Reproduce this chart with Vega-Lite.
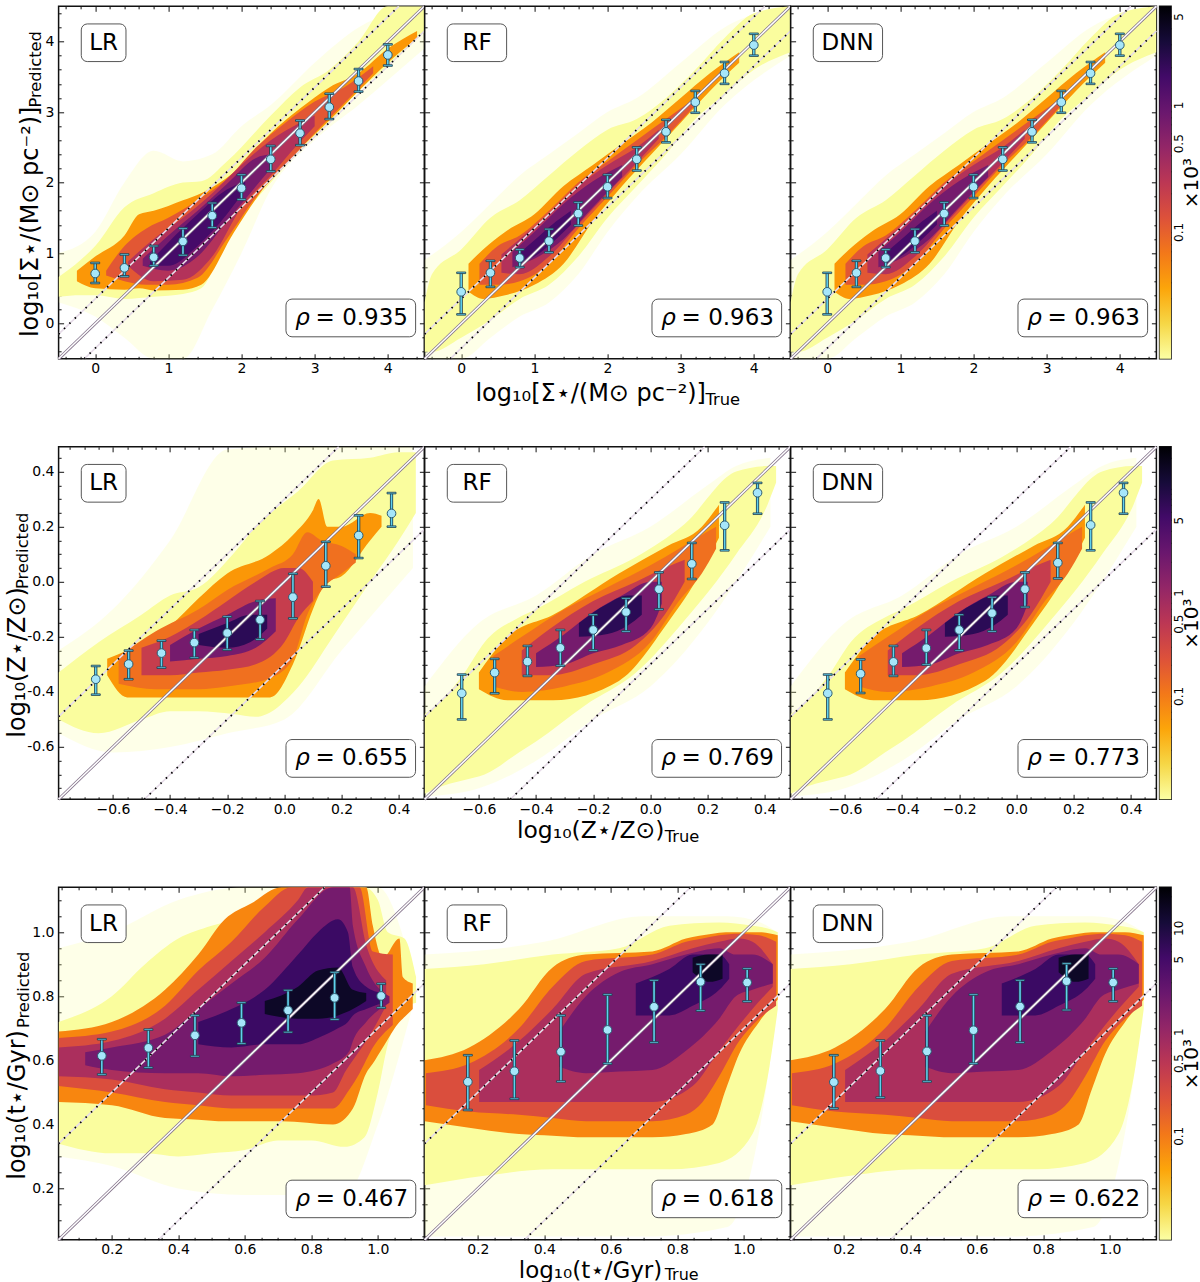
{"$schema":"https://vega.github.io/schema/vega-lite/v6.json","padding":{"left":5.6,"top":3.3,"right":0,"bottom":0},"background":"white","spacing":440.5,"bounds":"flush",
"config":{"view":{"stroke":"#111","strokeWidth":1.5},"axis":{"domain":false,"grid":false,"labels":false,"tickColor":"#111","tickWidth":1,"tickSize":-2.5,"labelFont":"DejaVu Sans","labelFontSize":14,"labelColor":"#000","titleFont":"DejaVu Sans","titleColor":"#000","zindex":1},"text":{"font":"DejaVu Sans","color":"#000"}},
"datasets":{"one":[{"u":1}],
"m1":[{"a":-0.5,"b":-0.5,"c":4.5,"d":4.5}],"d1":[{"a":-0.5,"b":-0.15,"c":4.15,"d":4.5},{"a":-0.15,"b":-0.5,"c":4.5,"d":4.15}],
"m2":[{"a":-0.79,"b":-0.79,"c":0.49,"d":0.49}],"d2":[{"a":-0.79,"b":-0.49,"c":0.19,"d":0.49},{"a":-0.49,"b":-0.79,"c":0.49,"d":0.19}],
"m3":[{"a":0.04,"b":0.04,"c":1.14,"d":1.14}],"d3":[{"a":0.04,"b":0.34,"c":0.84,"d":1.14},{"a":0.34,"b":0.04,"c":1.14,"d":0.84}],
"r1":[
{"m":["LR"],"k":"a","lab":"LR","rho":"= 0.935"},{"m":["RF"],"k":"a","lab":"RF","rho":"= 0.963"},{"m":["DNN"],"k":"a","lab":"DNN","rho":"= 0.963"},
{"m":["LR"],"k":"s","x":-0.5,"y":0.3,"y2":1},{"m":["LR"],"k":"s","x":0,"y":0.1,"y2":1.3},{"m":["LR"],"k":"s","x":0.4,"y":-0.2,"y2":2},{"m":["LR"],"k":"s","x":0.8,"y":-0.5,"y2":2.45},{"m":["LR"],"k":"s","x":1.2,"y":-0.5,"y2":2.3},{"m":["LR"],"k":"s","x":1.6,"y":0.2,"y2":2.4},{"m":["LR"],"k":"s","x":2,"y":1,"y2":2.8},{"m":["LR"],"k":"s","x":2.4,"y":1.9,"y2":3.1},{"m":["LR"],"k":"s","x":3,"y":2.6,"y2":3.7},{"m":["LR"],"k":"s","x":3.6,"y":3.1,"y2":4.2},{"m":["LR"],"k":"s","x":4.5,"y":3.9,"y2":4.5},
{"m":["RF","DNN"],"k":"s","x":-0.5,"y":-0.5,"y2":0.9},{"m":["RF","DNN"],"k":"s","x":0,"y":-0.5,"y2":1.3},{"m":["RF","DNN"],"k":"s","x":0.4,"y":-0.2,"y2":1.7},{"m":["RF","DNN"],"k":"s","x":0.8,"y":0.1,"y2":2.1},{"m":["RF","DNN"],"k":"s","x":1.2,"y":0.3,"y2":2.4},{"m":["RF","DNN"],"k":"s","x":1.6,"y":0.7,"y2":2.7},{"m":["RF","DNN"],"k":"s","x":2,"y":1.3,"y2":3},{"m":["RF","DNN"],"k":"s","x":2.4,"y":1.8,"y2":3.2},{"m":["RF","DNN"],"k":"s","x":3,"y":2.4,"y2":3.7},{"m":["RF","DNN"],"k":"s","x":3.6,"y":3.1,"y2":4.2},{"m":["RF","DNN"],"k":"s","x":4.5,"y":3.8,"y2":4.5},
{"m":["LR"],"k":"b","v":0.0105,"x":-0.5,"y":0.38,"y2":0.66},{"m":["LR"],"k":"b","v":0.0105,"x":-0.2,"y":0.4,"y2":0.9},{"m":["LR"],"k":"b","v":0.0105,"x":0,"y":0.4,"y2":1.1},{"m":["LR"],"k":"b","v":0.0105,"x":0.4,"y":0.35,"y2":1.65},{"m":["LR"],"k":"b","v":0.0105,"x":0.8,"y":0.38,"y2":1.85},{"m":["LR"],"k":"b","v":0.0105,"x":1.2,"y":0.42,"y2":2},{"m":["LR"],"k":"b","v":0.0105,"x":1.45,"y":0.5,"y2":2.02},{"m":["LR"],"k":"b","v":0.0105,"x":1.8,"y":1.2,"y2":2.3},{"m":["LR"],"k":"b","v":0.0105,"x":2.4,"y":2,"y2":2.95},{"m":["LR"],"k":"b","v":0.0105,"x":2.8,"y":2.45,"y2":3.35},{"m":["LR"],"k":"b","v":0.0105,"x":3.2,"y":2.85,"y2":3.6},{"m":["LR"],"k":"b","v":0.0105,"x":3.6,"y":3.3,"y2":4},{"m":["LR"],"k":"b","v":0.0105,"x":4,"y":3.65,"y2":4.5},{"m":["LR"],"k":"b","v":0.0105,"x":4.5,"y":4.15,"y2":4.5},
{"m":["LR"],"k":"b","v":0.06,"x":-0.25,"y":0.6,"y2":0.75},{"m":["LR"],"k":"b","v":0.06,"x":0,"y":0.5,"y2":0.95},{"m":["LR"],"k":"b","v":0.06,"x":0.4,"y":0.48,"y2":1.25},{"m":["LR"],"k":"b","v":0.06,"x":0.6,"y":0.5,"y2":1.55},{"m":["LR"],"k":"b","v":0.06,"x":0.8,"y":0.47,"y2":1.6},{"m":["LR"],"k":"b","v":0.06,"x":1.2,"y":0.48,"y2":1.75},{"m":["LR"],"k":"b","v":0.06,"x":1.45,"y":0.55,"y2":1.85},{"m":["LR"],"k":"b","v":0.06,"x":1.9,"y":1.3,"y2":2.15},{"m":["LR"],"k":"b","v":0.06,"x":2.4,"y":2.05,"y2":2.7},{"m":["LR"],"k":"b","v":0.06,"x":2.8,"y":2.48,"y2":3.05},{"m":["LR"],"k":"b","v":0.06,"x":3.2,"y":2.88,"y2":3.35},{"m":["LR"],"k":"b","v":0.06,"x":3.6,"y":3.3,"y2":3.55},{"m":["LR"],"k":"b","v":0.06,"x":4,"y":3.7,"y2":3.9},{"m":["LR"],"k":"b","v":0.06,"x":4.4,"y":4.05,"y2":4.15},
{"m":["LR"],"k":"b","v":0.2,"x":0.15,"y":0.68,"y2":0.75},{"m":["LR"],"k":"b","v":0.2,"x":0.4,"y":0.6,"y2":1.1},{"m":["LR"],"k":"b","v":0.2,"x":0.7,"y":0.55,"y2":1.35},{"m":["LR"],"k":"b","v":0.2,"x":1,"y":0.55,"y2":1.5},{"m":["LR"],"k":"b","v":0.2,"x":1.4,"y":0.65,"y2":1.75},{"m":["LR"],"k":"b","v":0.2,"x":1.8,"y":1.2,"y2":2.05},{"m":["LR"],"k":"b","v":0.2,"x":2.2,"y":1.8,"y2":2.5},{"m":["LR"],"k":"b","v":0.2,"x":2.6,"y":2.25,"y2":2.85},{"m":["LR"],"k":"b","v":0.2,"x":3,"y":2.7,"y2":3.15},{"m":["LR"],"k":"b","v":0.2,"x":3.4,"y":3.12,"y2":3.35},{"m":["LR"],"k":"b","v":0.2,"x":3.8,"y":3.55,"y2":3.65},
{"m":["LR"],"k":"b","v":0.6,"x":0.45,"y":0.82,"y2":0.88},{"m":["LR"],"k":"b","v":0.6,"x":0.8,"y":0.6,"y2":1.2},{"m":["LR"],"k":"b","v":0.6,"x":1.2,"y":0.62,"y2":1.5},{"m":["LR"],"k":"b","v":0.6,"x":1.6,"y":0.95,"y2":1.85},{"m":["LR"],"k":"b","v":0.6,"x":2,"y":1.65,"y2":2.25},{"m":["LR"],"k":"b","v":0.6,"x":2.4,"y":2.1,"y2":2.6},{"m":["LR"],"k":"b","v":0.6,"x":2.8,"y":2.58,"y2":2.85},{"m":["LR"],"k":"b","v":0.6,"x":3,"y":2.8,"y2":2.95},
{"m":["LR"],"k":"b","v":2,"x":0.65,"y":0.82,"y2":0.92},{"m":["LR"],"k":"b","v":2,"x":1,"y":0.75,"y2":1.25},{"m":["LR"],"k":"b","v":2,"x":1.4,"y":0.95,"y2":1.6},{"m":["LR"],"k":"b","v":2,"x":1.8,"y":1.45,"y2":1.98},{"m":["LR"],"k":"b","v":2,"x":2.2,"y":1.95,"y2":2.35},{"m":["LR"],"k":"b","v":2,"x":2.4,"y":2.2,"y2":2.4},
{"m":["LR"],"k":"b","v":5,"x":0.75,"y":0.82,"y2":0.88},{"m":["LR"],"k":"b","v":5,"x":1,"y":0.82,"y2":1.15},{"m":["LR"],"k":"b","v":5,"x":1.4,"y":1.1,"y2":1.55},{"m":["LR"],"k":"b","v":5,"x":1.8,"y":1.55,"y2":1.9},{"m":["LR"],"k":"b","v":5,"x":2.05,"y":1.9,"y2":2.02},
{"m":["RF","DNN"],"k":"b","v":0.0105,"x":-0.5,"y":-0.4,"y2":0.3},{"m":["RF","DNN"],"k":"b","v":0.0105,"x":-0.4,"y":-0.4,"y2":0.7},{"m":["RF","DNN"],"k":"b","v":0.0105,"x":0,"y":-0.2,"y2":1.05},{"m":["RF","DNN"],"k":"b","v":0.0105,"x":0.4,"y":0.05,"y2":1.5},{"m":["RF","DNN"],"k":"b","v":0.0105,"x":0.8,"y":0.35,"y2":1.75},{"m":["RF","DNN"],"k":"b","v":0.0105,"x":1.2,"y":0.55,"y2":2.1},{"m":["RF","DNN"],"k":"b","v":0.0105,"x":1.6,"y":0.95,"y2":2.45},{"m":["RF","DNN"],"k":"b","v":0.0105,"x":2,"y":1.5,"y2":2.75},{"m":["RF","DNN"],"k":"b","v":0.0105,"x":2.4,"y":1.95,"y2":2.9},{"m":["RF","DNN"],"k":"b","v":0.0105,"x":2.8,"y":2.4,"y2":3.2},{"m":["RF","DNN"],"k":"b","v":0.0105,"x":3.2,"y":2.9,"y2":3.6},{"m":["RF","DNN"],"k":"b","v":0.0105,"x":3.6,"y":3.25,"y2":4.05},{"m":["RF","DNN"],"k":"b","v":0.0105,"x":4,"y":3.6,"y2":4.4},{"m":["RF","DNN"],"k":"b","v":0.0105,"x":4.5,"y":3.85,"y2":4.5},
{"m":["RF","DNN"],"k":"b","v":0.06,"x":0.1,"y":0.45,"y2":0.85},{"m":["RF","DNN"],"k":"b","v":0.06,"x":0.3,"y":0.35,"y2":1.05},{"m":["RF","DNN"],"k":"b","v":0.06,"x":0.6,"y":0.4,"y2":1.3},{"m":["RF","DNN"],"k":"b","v":0.06,"x":1,"y":0.55,"y2":1.55},{"m":["RF","DNN"],"k":"b","v":0.06,"x":1.4,"y":0.85,"y2":1.95},{"m":["RF","DNN"],"k":"b","v":0.06,"x":1.8,"y":1.45,"y2":2.25},{"m":["RF","DNN"],"k":"b","v":0.06,"x":2.2,"y":1.95,"y2":2.55},{"m":["RF","DNN"],"k":"b","v":0.06,"x":2.6,"y":2.4,"y2":2.85},{"m":["RF","DNN"],"k":"b","v":0.06,"x":3,"y":2.85,"y2":3.2},{"m":["RF","DNN"],"k":"b","v":0.06,"x":3.4,"y":3.3,"y2":3.55},{"m":["RF","DNN"],"k":"b","v":0.06,"x":3.8,"y":3.7,"y2":3.85},
{"m":["RF","DNN"],"k":"b","v":0.2,"x":0.25,"y":0.55,"y2":0.85},{"m":["RF","DNN"],"k":"b","v":0.2,"x":0.5,"y":0.55,"y2":1.1},{"m":["RF","DNN"],"k":"b","v":0.2,"x":0.8,"y":0.6,"y2":1.25},{"m":["RF","DNN"],"k":"b","v":0.2,"x":1.2,"y":0.85,"y2":1.6},{"m":["RF","DNN"],"k":"b","v":0.2,"x":1.6,"y":1.35,"y2":2},{"m":["RF","DNN"],"k":"b","v":0.2,"x":2,"y":1.8,"y2":2.3},{"m":["RF","DNN"],"k":"b","v":0.2,"x":2.4,"y":2.25,"y2":2.6},{"m":["RF","DNN"],"k":"b","v":0.2,"x":2.8,"y":2.65,"y2":2.9},{"m":["RF","DNN"],"k":"b","v":0.2,"x":3.2,"y":3.1,"y2":3.2},
{"m":["RF","DNN"],"k":"b","v":0.6,"x":0.55,"y":0.72,"y2":0.98},{"m":["RF","DNN"],"k":"b","v":0.6,"x":0.8,"y":0.7,"y2":1.2},{"m":["RF","DNN"],"k":"b","v":0.6,"x":1.2,"y":0.95,"y2":1.55},{"m":["RF","DNN"],"k":"b","v":0.6,"x":1.6,"y":1.4,"y2":1.95},{"m":["RF","DNN"],"k":"b","v":0.6,"x":2,"y":1.85,"y2":2.25},{"m":["RF","DNN"],"k":"b","v":0.6,"x":2.4,"y":2.28,"y2":2.5},{"m":["RF","DNN"],"k":"b","v":0.6,"x":2.7,"y":2.62,"y2":2.75},
{"m":["RF","DNN"],"k":"b","v":2,"x":0.7,"y":0.8,"y2":1.02},{"m":["RF","DNN"],"k":"b","v":2,"x":1,"y":0.92,"y2":1.3},{"m":["RF","DNN"],"k":"b","v":2,"x":1.4,"y":1.2,"y2":1.7},{"m":["RF","DNN"],"k":"b","v":2,"x":1.8,"y":1.65,"y2":2.02},{"m":["RF","DNN"],"k":"b","v":2,"x":2.2,"y":2.08,"y2":2.25},
{"m":["RF","DNN"],"k":"b","v":5,"x":0.8,"y":0.85,"y2":1},{"m":["RF","DNN"],"k":"b","v":5,"x":1,"y":0.95,"y2":1.18},{"m":["RF","DNN"],"k":"b","v":5,"x":1.3,"y":1.2,"y2":1.45},{"m":["RF","DNN"],"k":"b","v":5,"x":1.5,"y":1.4,"y2":1.6},
{"m":["LR"],"k":"p","x":0,"y":0.71,"lo":0.575,"hi":0.86},{"m":["LR"],"k":"p","x":0.4,"y":0.79,"lo":0.67,"hi":0.98},{"m":["LR"],"k":"p","x":0.8,"y":0.94,"lo":0.82,"hi":1.1},{"m":["LR"],"k":"p","x":1.2,"y":1.165,"lo":0.97,"hi":1.35},{"m":["LR"],"k":"p","x":1.6,"y":1.53,"lo":1.36,"hi":1.71},{"m":["LR"],"k":"p","x":2,"y":1.92,"lo":1.76,"hi":2.11},{"m":["LR"],"k":"p","x":2.4,"y":2.33,"lo":2.16,"hi":2.52},{"m":["LR"],"k":"p","x":2.8,"y":2.7,"lo":2.53,"hi":2.88},{"m":["LR"],"k":"p","x":3.2,"y":3.07,"lo":2.9,"hi":3.26},{"m":["LR"],"k":"p","x":3.6,"y":3.44,"lo":3.29,"hi":3.61},{"m":["LR"],"k":"p","x":4,"y":3.81,"lo":3.66,"hi":3.96},
{"m":["RF","DNN"],"k":"p","x":0,"y":0.45,"lo":0.13,"hi":0.72},{"m":["RF","DNN"],"k":"p","x":0.4,"y":0.72,"lo":0.52,"hi":0.89},{"m":["RF","DNN"],"k":"p","x":0.8,"y":0.93,"lo":0.8,"hi":1.05},{"m":["RF","DNN"],"k":"p","x":1.2,"y":1.17,"lo":1.01,"hi":1.34},{"m":["RF","DNN"],"k":"p","x":1.6,"y":1.56,"lo":1.39,"hi":1.72},{"m":["RF","DNN"],"k":"p","x":2,"y":1.94,"lo":1.78,"hi":2.11},{"m":["RF","DNN"],"k":"p","x":2.4,"y":2.33,"lo":2.17,"hi":2.5},{"m":["RF","DNN"],"k":"p","x":2.8,"y":2.72,"lo":2.57,"hi":2.89},{"m":["RF","DNN"],"k":"p","x":3.2,"y":3.14,"lo":2.99,"hi":3.3},{"m":["RF","DNN"],"k":"p","x":3.6,"y":3.55,"lo":3.4,"hi":3.71},{"m":["RF","DNN"],"k":"p","x":4,"y":3.95,"lo":3.8,"hi":4.11}
],
"r2":[
{"m":["LR"],"k":"a","lab":"LR","rho":"= 0.655"},{"m":["RF"],"k":"a","lab":"RF","rho":"= 0.769"},{"m":["DNN"],"k":"a","lab":"DNN","rho":"= 0.773"},
{"m":["LR"],"k":"s","x":-0.79,"y":-0.55,"y2":-0.25},{"m":["LR"],"k":"s","x":-0.6,"y":-0.62,"y2":-0.1},{"m":["LR"],"k":"s","x":-0.4,"y":-0.6,"y2":0.15},{"m":["LR"],"k":"s","x":-0.2,"y":-0.55,"y2":0.48},{"m":["LR"],"k":"s","x":0,"y":-0.5,"y2":0.49},{"m":["LR"],"k":"s","x":0.2,"y":-0.25,"y2":0.49},{"m":["LR"],"k":"s","x":0.45,"y":0.05,"y2":0.49},
{"m":["RF","DNN"],"k":"s","x":-0.79,"y":-0.78,"y2":-0.38},{"m":["RF","DNN"],"k":"s","x":-0.6,"y":-0.75,"y2":-0.15},{"m":["RF","DNN"],"k":"s","x":-0.4,"y":-0.65,"y2":-0.05},{"m":["RF","DNN"],"k":"s","x":-0.2,"y":-0.5,"y2":0.1},{"m":["RF","DNN"],"k":"s","x":0,"y":-0.38,"y2":0.2},{"m":["RF","DNN"],"k":"s","x":0.2,"y":-0.15,"y2":0.35},{"m":["RF","DNN"],"k":"s","x":0.3,"y":0,"y2":0.42},{"m":["RF","DNN"],"k":"s","x":0.42,"y":0.2,"y2":0.45},
{"m":["LR"],"k":"b","v":0.0105,"x":-0.79,"y":-0.5,"y2":-0.33},{"m":["LR"],"k":"b","v":0.0105,"x":-0.65,"y":-0.55,"y2":-0.22},{"m":["LR"],"k":"b","v":0.0105,"x":-0.5,"y":-0.5,"y2":-0.12},{"m":["LR"],"k":"b","v":0.0105,"x":-0.4,"y":-0.47,"y2":-0.05},{"m":["LR"],"k":"b","v":0.0105,"x":-0.3,"y":-0.47,"y2":-0.02},{"m":["LR"],"k":"b","v":0.0105,"x":-0.18,"y":-0.48,"y2":0.1},{"m":["LR"],"k":"b","v":0.0105,"x":-0.1,"y":-0.49,"y2":0.2},{"m":["LR"],"k":"b","v":0.0105,"x":0.05,"y":-0.38,"y2":0.33},{"m":["LR"],"k":"b","v":0.0105,"x":0.17,"y":-0.2,"y2":0.44},{"m":["LR"],"k":"b","v":0.0105,"x":0.3,"y":0,"y2":0.45},{"m":["LR"],"k":"b","v":0.0105,"x":0.4,"y":0.15,"y2":0.47},{"m":["LR"],"k":"b","v":0.0105,"x":0.46,"y":0.25,"y2":0.47},
{"m":["LR"],"k":"b","v":0.06,"x":-0.62,"y":-0.34,"y2":-0.28},{"m":["LR"],"k":"b","v":0.06,"x":-0.55,"y":-0.42,"y2":-0.25},{"m":["LR"],"k":"b","v":0.06,"x":-0.4,"y":-0.42,"y2":-0.16},{"m":["LR"],"k":"b","v":0.06,"x":-0.3,"y":-0.42,"y2":-0.06},{"m":["LR"],"k":"b","v":0.06,"x":-0.2,"y":-0.42,"y2":0.03},{"m":["LR"],"k":"b","v":0.06,"x":-0.05,"y":-0.42,"y2":0.1},{"m":["LR"],"k":"b","v":0.06,"x":0.03,"y":-0.3,"y2":0.17},{"m":["LR"],"k":"b","v":0.06,"x":0.1,"y":-0.1,"y2":0.26},{"m":["LR"],"k":"b","v":0.06,"x":0.12,"y":-0.05,"y2":0.3},{"m":["LR"],"k":"b","v":0.06,"x":0.15,"y":0,"y2":0.2},{"m":["LR"],"k":"b","v":0.06,"x":0.2,"y":0.02,"y2":0.2},{"m":["LR"],"k":"b","v":0.06,"x":0.3,"y":0.15,"y2":0.25},{"m":["LR"],"k":"b","v":0.06,"x":0.34,"y":0.2,"y2":0.24},
{"m":["LR"],"k":"b","v":0.12,"x":-0.58,"y":-0.37,"y2":-0.27},{"m":["LR"],"k":"b","v":0.12,"x":-0.45,"y":-0.39,"y2":-0.18},{"m":["LR"],"k":"b","v":0.12,"x":-0.3,"y":-0.39,"y2":-0.1},{"m":["LR"],"k":"b","v":0.12,"x":-0.2,"y":-0.38,"y2":-0.03},{"m":["LR"],"k":"b","v":0.12,"x":-0.05,"y":-0.35,"y2":0.05},{"m":["LR"],"k":"b","v":0.12,"x":0.03,"y":-0.28,"y2":0.1},{"m":["LR"],"k":"b","v":0.12,"x":0.08,"y":-0.12,"y2":0.18},{"m":["LR"],"k":"b","v":0.12,"x":0.13,"y":-0.03,"y2":0.15},{"m":["LR"],"k":"b","v":0.12,"x":0.2,"y":0.03,"y2":0.13},{"m":["LR"],"k":"b","v":0.12,"x":0.25,"y":0.07,"y2":0.1},
{"m":["LR"],"k":"b","v":0.4,"x":-0.5,"y":-0.34,"y2":-0.24},{"m":["LR"],"k":"b","v":0.4,"x":-0.4,"y":-0.34,"y2":-0.2},{"m":["LR"],"k":"b","v":0.4,"x":-0.3,"y":-0.33,"y2":-0.14},{"m":["LR"],"k":"b","v":0.4,"x":-0.2,"y":-0.32,"y2":-0.07},{"m":["LR"],"k":"b","v":0.4,"x":-0.1,"y":-0.3,"y2":0},{"m":["LR"],"k":"b","v":0.4,"x":0,"y":-0.22,"y2":0.05},{"m":["LR"],"k":"b","v":0.4,"x":0.05,"y":-0.13,"y2":0.05},{"m":["LR"],"k":"b","v":0.4,"x":0.1,"y":-0.07,"y2":0},
{"m":["LR"],"k":"b","v":2,"x":-0.4,"y":-0.29,"y2":-0.23},{"m":["LR"],"k":"b","v":2,"x":-0.3,"y":-0.28,"y2":-0.17},{"m":["LR"],"k":"b","v":2,"x":-0.2,"y":-0.27,"y2":-0.12},{"m":["LR"],"k":"b","v":2,"x":-0.1,"y":-0.24,"y2":-0.07},{"m":["LR"],"k":"b","v":2,"x":-0.03,"y":-0.18,"y2":-0.06},
{"m":["LR"],"k":"b","v":8,"x":-0.3,"y":-0.23,"y2":-0.19},{"m":["LR"],"k":"b","v":8,"x":-0.2,"y":-0.24,"y2":-0.15},{"m":["LR"],"k":"b","v":8,"x":-0.12,"y":-0.22,"y2":-0.12},{"m":["LR"],"k":"b","v":8,"x":-0.06,"y":-0.17,"y2":-0.12},
{"m":["RF","DNN"],"k":"b","v":0.0105,"x":-0.79,"y":-0.77,"y2":-0.48},{"m":["RF","DNN"],"k":"b","v":0.0105,"x":-0.75,"y":-0.75,"y2":-0.45},{"m":["RF","DNN"],"k":"b","v":0.0105,"x":-0.65,"y":-0.72,"y2":-0.33},{"m":["RF","DNN"],"k":"b","v":0.0105,"x":-0.58,"y":-0.7,"y2":-0.22},{"m":["RF","DNN"],"k":"b","v":0.0105,"x":-0.46,"y":-0.62,"y2":-0.13},{"m":["RF","DNN"],"k":"b","v":0.0105,"x":-0.4,"y":-0.58,"y2":-0.1},{"m":["RF","DNN"],"k":"b","v":0.0105,"x":-0.23,"y":-0.45,"y2":0},{"m":["RF","DNN"],"k":"b","v":0.0105,"x":-0.05,"y":-0.33,"y2":0.09},{"m":["RF","DNN"],"k":"b","v":0.0105,"x":0.12,"y":-0.14,"y2":0.21},{"m":["RF","DNN"],"k":"b","v":0.0105,"x":0.3,"y":0.1,"y2":0.4},{"m":["RF","DNN"],"k":"b","v":0.0105,"x":0.41,"y":0.28,"y2":0.42},{"m":["RF","DNN"],"k":"b","v":0.0105,"x":0.44,"y":0.36,"y2":0.42},
{"m":["RF","DNN"],"k":"b","v":0.06,"x":-0.6,"y":-0.39,"y2":-0.33},{"m":["RF","DNN"],"k":"b","v":0.06,"x":-0.5,"y":-0.43,"y2":-0.2},{"m":["RF","DNN"],"k":"b","v":0.06,"x":-0.34,"y":-0.43,"y2":-0.12},{"m":["RF","DNN"],"k":"b","v":0.06,"x":-0.11,"y":-0.36,"y2":0.03},{"m":["RF","DNN"],"k":"b","v":0.06,"x":0.06,"y":-0.15,"y2":0.13},{"m":["RF","DNN"],"k":"b","v":0.06,"x":0.18,"y":0.04,"y2":0.2},{"m":["RF","DNN"],"k":"b","v":0.06,"x":0.24,"y":0.16,"y2":0.28},
{"m":["RF","DNN"],"k":"b","v":0.12,"x":-0.55,"y":-0.38,"y2":-0.27},{"m":["RF","DNN"],"k":"b","v":0.12,"x":-0.45,"y":-0.4,"y2":-0.2},{"m":["RF","DNN"],"k":"b","v":0.12,"x":-0.3,"y":-0.38,"y2":-0.1},{"m":["RF","DNN"],"k":"b","v":0.12,"x":-0.15,"y":-0.33,"y2":-0.02},{"m":["RF","DNN"],"k":"b","v":0.12,"x":0,"y":-0.22,"y2":0.06},{"m":["RF","DNN"],"k":"b","v":0.12,"x":0.1,"y":-0.07,"y2":0.12},{"m":["RF","DNN"],"k":"b","v":0.12,"x":0.18,"y":0.03,"y2":0.17},{"m":["RF","DNN"],"k":"b","v":0.12,"x":0.23,"y":0.12,"y2":0.2},
{"m":["RF","DNN"],"k":"b","v":0.4,"x":-0.45,"y":-0.34,"y2":-0.25},{"m":["RF","DNN"],"k":"b","v":0.4,"x":-0.35,"y":-0.34,"y2":-0.17},{"m":["RF","DNN"],"k":"b","v":0.4,"x":-0.2,"y":-0.3,"y2":-0.07},{"m":["RF","DNN"],"k":"b","v":0.4,"x":-0.05,"y":-0.23,"y2":0},{"m":["RF","DNN"],"k":"b","v":0.4,"x":0.05,"y":-0.12,"y2":0.05},{"m":["RF","DNN"],"k":"b","v":0.4,"x":0.12,"y":0,"y2":0.08},
{"m":["RF","DNN"],"k":"b","v":2,"x":-0.4,"y":-0.31,"y2":-0.26},{"m":["RF","DNN"],"k":"b","v":2,"x":-0.3,"y":-0.3,"y2":-0.19},{"m":["RF","DNN"],"k":"b","v":2,"x":-0.2,"y":-0.26,"y2":-0.11},{"m":["RF","DNN"],"k":"b","v":2,"x":-0.1,"y":-0.23,"y2":-0.05},{"m":["RF","DNN"],"k":"b","v":2,"x":0,"y":-0.17,"y2":0},{"m":["RF","DNN"],"k":"b","v":2,"x":0.04,"y":-0.08,"y2":0},
{"m":["RF","DNN"],"k":"b","v":8,"x":-0.25,"y":-0.2,"y2":-0.15},{"m":["RF","DNN"],"k":"b","v":8,"x":-0.15,"y":-0.19,"y2":-0.08},{"m":["RF","DNN"],"k":"b","v":8,"x":-0.08,"y":-0.16,"y2":-0.05},{"m":["RF","DNN"],"k":"b","v":8,"x":-0.03,"y":-0.12,"y2":-0.05},
{"m":["LR"],"k":"p","x":-0.66,"y":-0.354,"lo":-0.41,"hi":-0.306},{"m":["LR"],"k":"p","x":-0.545,"y":-0.299,"lo":-0.354,"hi":-0.25},{"m":["LR"],"k":"p","x":-0.43,"y":-0.259,"lo":-0.312,"hi":-0.214},{"m":["LR"],"k":"p","x":-0.315,"y":-0.221,"lo":-0.276,"hi":-0.175},{"m":["LR"],"k":"p","x":-0.2,"y":-0.186,"lo":-0.247,"hi":-0.127},{"m":["LR"],"k":"p","x":-0.085,"y":-0.138,"lo":-0.209,"hi":-0.07},{"m":["LR"],"k":"p","x":0.03,"y":-0.056,"lo":-0.133,"hi":0.029},{"m":["LR"],"k":"p","x":0.145,"y":0.058,"lo":-0.018,"hi":0.145},{"m":["LR"],"k":"p","x":0.26,"y":0.168,"lo":0.086,"hi":0.241},{"m":["LR"],"k":"p","x":0.375,"y":0.248,"lo":0.2,"hi":0.322},
{"m":["RF"],"k":"p","x":-0.66,"y":-0.405,"lo":-0.5,"hi":-0.337},{"m":["RF"],"k":"p","x":-0.545,"y":-0.33,"lo":-0.405,"hi":-0.28},{"m":["RF"],"k":"p","x":-0.43,"y":-0.29,"lo":-0.342,"hi":-0.233},{"m":["RF"],"k":"p","x":-0.315,"y":-0.24,"lo":-0.305,"hi":-0.175},{"m":["RF"],"k":"p","x":-0.2,"y":-0.175,"lo":-0.249,"hi":-0.12},{"m":["RF"],"k":"p","x":-0.085,"y":-0.11,"lo":-0.18,"hi":-0.06},{"m":["RF"],"k":"p","x":0.03,"y":-0.027,"lo":-0.1,"hi":0.034},{"m":["RF"],"k":"p","x":0.145,"y":0.065,"lo":0.01,"hi":0.141},{"m":["RF"],"k":"p","x":0.26,"y":0.205,"lo":0.114,"hi":0.288},{"m":["RF"],"k":"p","x":0.375,"y":0.323,"lo":0.247,"hi":0.359},
{"m":["DNN"],"k":"p","x":-0.66,"y":-0.405,"lo":-0.5,"hi":-0.337},{"m":["DNN"],"k":"p","x":-0.545,"y":-0.334,"lo":-0.404,"hi":-0.282},{"m":["DNN"],"k":"p","x":-0.43,"y":-0.291,"lo":-0.342,"hi":-0.233},{"m":["DNN"],"k":"p","x":-0.315,"y":-0.241,"lo":-0.301,"hi":-0.175},{"m":["DNN"],"k":"p","x":-0.2,"y":-0.175,"lo":-0.249,"hi":-0.12},{"m":["DNN"],"k":"p","x":-0.085,"y":-0.114,"lo":-0.18,"hi":-0.056},{"m":["DNN"],"k":"p","x":0.03,"y":-0.027,"lo":-0.092,"hi":0.034},{"m":["DNN"],"k":"p","x":0.145,"y":0.069,"lo":0.012,"hi":0.141},{"m":["DNN"],"k":"p","x":0.26,"y":0.206,"lo":0.114,"hi":0.288},{"m":["DNN"],"k":"p","x":0.375,"y":0.323,"lo":0.247,"hi":0.359}
],
"r3":[
{"m":["LR"],"k":"a","lab":"LR","rho":"= 0.467"},{"m":["RF"],"k":"a","lab":"RF","rho":"= 0.618"},{"m":["DNN"],"k":"a","lab":"DNN","rho":"= 0.622"},
{"m":["LR"],"k":"s","x":0.04,"y":0.3,"y2":0.95},{"m":["LR"],"k":"s","x":0.2,"y":0.27,"y2":1},{"m":["LR"],"k":"s","x":0.4,"y":0.2,"y2":1.1},{"m":["LR"],"k":"s","x":0.6,"y":0.18,"y2":1.14},{"m":["LR"],"k":"s","x":0.9,"y":0.18,"y2":1.14},{"m":["LR"],"k":"s","x":1,"y":0.4,"y2":1.14},{"m":["LR"],"k":"s","x":1.1,"y":0.75,"y2":0.9},
{"m":["RF","DNN"],"k":"s","x":0.04,"y":0.05,"y2":0.93},{"m":["RF","DNN"],"k":"s","x":0.4,"y":0.05,"y2":0.97},{"m":["RF","DNN"],"k":"s","x":0.7,"y":0.05,"y2":1.05},{"m":["RF","DNN"],"k":"s","x":0.95,"y":0.08,"y2":1.05},{"m":["RF","DNN"],"k":"s","x":1.05,"y":0.4,"y2":1.03},{"m":["RF","DNN"],"k":"s","x":1.1,"y":0.76,"y2":1},
{"m":["LR"],"k":"b","v":0.0105,"x":0.04,"y":0.34,"y2":0.72},{"m":["LR"],"k":"b","v":0.0105,"x":0.2,"y":0.31,"y2":0.8},{"m":["LR"],"k":"b","v":0.0105,"x":0.3,"y":0.31,"y2":0.9},{"m":["LR"],"k":"b","v":0.0105,"x":0.4,"y":0.3,"y2":0.98},{"m":["LR"],"k":"b","v":0.0105,"x":0.5,"y":0.31,"y2":1.02},{"m":["LR"],"k":"b","v":0.0105,"x":0.6,"y":0.32,"y2":1.05},{"m":["LR"],"k":"b","v":0.0105,"x":0.7,"y":0.35,"y2":1.1},{"m":["LR"],"k":"b","v":0.0105,"x":0.8,"y":0.35,"y2":1.14},{"m":["LR"],"k":"b","v":0.0105,"x":0.9,"y":0.33,"y2":1.14},{"m":["LR"],"k":"b","v":0.0105,"x":0.96,"y":0.36,"y2":1.14},{"m":["LR"],"k":"b","v":0.0105,"x":1,"y":0.5,"y2":1.1},{"m":["LR"],"k":"b","v":0.0105,"x":1.03,"y":0.65,"y2":1},{"m":["LR"],"k":"b","v":0.0105,"x":1.08,"y":0.76,"y2":0.98},{"m":["LR"],"k":"b","v":0.0105,"x":1.115,"y":0.78,"y2":0.86},
{"m":["LR"],"k":"b","v":0.08,"x":0.04,"y":0.47,"y2":0.69},{"m":["LR"],"k":"b","v":0.08,"x":0.2,"y":0.46,"y2":0.72},{"m":["LR"],"k":"b","v":0.08,"x":0.36,"y":0.42,"y2":0.82},{"m":["LR"],"k":"b","v":0.08,"x":0.46,"y":0.415,"y2":0.93},{"m":["LR"],"k":"b","v":0.08,"x":0.54,"y":0.41,"y2":1.04},{"m":["LR"],"k":"b","v":0.08,"x":0.62,"y":0.41,"y2":1.09},{"m":["LR"],"k":"b","v":0.08,"x":0.71,"y":0.41,"y2":1.14},{"m":["LR"],"k":"b","v":0.08,"x":0.865,"y":0.4,"y2":1.14},{"m":["LR"],"k":"b","v":0.08,"x":0.925,"y":0.45,"y2":1.14},{"m":["LR"],"k":"b","v":0.08,"x":0.965,"y":0.56,"y2":1.14},{"m":["LR"],"k":"b","v":0.08,"x":0.985,"y":0.59,"y2":1.02},{"m":["LR"],"k":"b","v":0.08,"x":1.015,"y":0.64,"y2":0.92},{"m":["LR"],"k":"b","v":0.08,"x":1.065,"y":0.72,"y2":0.98},{"m":["LR"],"k":"b","v":0.08,"x":1.075,"y":0.73,"y2":0.86},{"m":["LR"],"k":"b","v":0.08,"x":1.105,"y":0.76,"y2":0.84},
{"m":["LR"],"k":"b","v":0.25,"x":0.04,"y":0.52,"y2":0.67},{"m":["LR"],"k":"b","v":0.25,"x":0.2,"y":0.5,"y2":0.69},{"m":["LR"],"k":"b","v":0.25,"x":0.36,"y":0.47,"y2":0.77},{"m":["LR"],"k":"b","v":0.25,"x":0.46,"y":0.46,"y2":0.88},{"m":["LR"],"k":"b","v":0.25,"x":0.56,"y":0.45,"y2":0.97},{"m":["LR"],"k":"b","v":0.25,"x":0.66,"y":0.45,"y2":1.08},{"m":["LR"],"k":"b","v":0.25,"x":0.74,"y":0.45,"y2":1.14},{"m":["LR"],"k":"b","v":0.25,"x":0.865,"y":0.45,"y2":1.14},{"m":["LR"],"k":"b","v":0.25,"x":0.915,"y":0.51,"y2":1.14},{"m":["LR"],"k":"b","v":0.25,"x":0.945,"y":0.56,"y2":1.14},{"m":["LR"],"k":"b","v":0.25,"x":0.985,"y":0.64,"y2":0.94},{"m":["LR"],"k":"b","v":0.25,"x":1.045,"y":0.71,"y2":0.93},
{"m":["LR"],"k":"b","v":0.7,"x":0.04,"y":0.55,"y2":0.64},{"m":["LR"],"k":"b","v":0.7,"x":0.2,"y":0.54,"y2":0.66},{"m":["LR"],"k":"b","v":0.7,"x":0.36,"y":0.51,"y2":0.73},{"m":["LR"],"k":"b","v":0.7,"x":0.46,"y":0.5,"y2":0.82},{"m":["LR"],"k":"b","v":0.7,"x":0.56,"y":0.49,"y2":0.91},{"m":["LR"],"k":"b","v":0.7,"x":0.66,"y":0.49,"y2":1},{"m":["LR"],"k":"b","v":0.7,"x":0.76,"y":0.49,"y2":1.1},{"m":["LR"],"k":"b","v":0.7,"x":0.79,"y":0.49,"y2":1.14},{"m":["LR"],"k":"b","v":0.7,"x":0.865,"y":0.5,"y2":1.14},{"m":["LR"],"k":"b","v":0.7,"x":0.905,"y":0.57,"y2":1.14},{"m":["LR"],"k":"b","v":0.7,"x":0.925,"y":0.6,"y2":1.14},{"m":["LR"],"k":"b","v":0.7,"x":0.965,"y":0.66,"y2":0.96},{"m":["LR"],"k":"b","v":0.7,"x":1.025,"y":0.77,"y2":0.85},
{"m":["LR"],"k":"b","v":2,"x":0.12,"y":0.585,"y2":0.625},{"m":["LR"],"k":"b","v":2,"x":0.2,"y":0.57,"y2":0.64},{"m":["LR"],"k":"b","v":2,"x":0.36,"y":0.56,"y2":0.68},{"m":["LR"],"k":"b","v":2,"x":0.46,"y":0.56,"y2":0.76},{"m":["LR"],"k":"b","v":2,"x":0.56,"y":0.55,"y2":0.84},{"m":["LR"],"k":"b","v":2,"x":0.66,"y":0.555,"y2":0.92},{"m":["LR"],"k":"b","v":2,"x":0.76,"y":0.56,"y2":1.04},{"m":["LR"],"k":"b","v":2,"x":0.865,"y":0.59,"y2":1.14},{"m":["LR"],"k":"b","v":2,"x":0.915,"y":0.63,"y2":1.14},{"m":["LR"],"k":"b","v":2,"x":0.925,"y":0.66,"y2":1.02},{"m":["LR"],"k":"b","v":2,"x":0.965,"y":0.72,"y2":0.89},{"m":["LR"],"k":"b","v":2,"x":1.035,"y":0.78,"y2":0.8},
{"m":["LR"],"k":"b","v":6,"x":0.46,"y":0.65,"y2":0.72},{"m":["LR"],"k":"b","v":6,"x":0.56,"y":0.64,"y2":0.76},{"m":["LR"],"k":"b","v":6,"x":0.66,"y":0.65,"y2":0.82},{"m":["LR"],"k":"b","v":6,"x":0.76,"y":0.65,"y2":0.93},{"m":["LR"],"k":"b","v":6,"x":0.82,"y":0.67,"y2":1},{"m":["LR"],"k":"b","v":6,"x":0.88,"y":0.7,"y2":1.04},{"m":["LR"],"k":"b","v":6,"x":0.91,"y":0.72,"y2":1},{"m":["LR"],"k":"b","v":6,"x":0.925,"y":0.74,"y2":0.89},{"m":["LR"],"k":"b","v":6,"x":0.965,"y":0.76,"y2":0.83},{"m":["LR"],"k":"b","v":6,"x":1.015,"y":0.78,"y2":0.81},
{"m":["LR"],"k":"b","v":15,"x":0.66,"y":0.745,"y2":0.785},{"m":["LR"],"k":"b","v":15,"x":0.76,"y":0.73,"y2":0.83},{"m":["LR"],"k":"b","v":15,"x":0.82,"y":0.73,"y2":0.88},{"m":["LR"],"k":"b","v":15,"x":0.88,"y":0.74,"y2":0.89},{"m":["LR"],"k":"b","v":15,"x":0.925,"y":0.76,"y2":0.82},{"m":["LR"],"k":"b","v":15,"x":0.965,"y":0.785,"y2":0.81},
{"m":["RF","DNN"],"k":"b","v":0.0105,"x":0.04,"y":0.21,"y2":0.885},{"m":["RF","DNN"],"k":"b","v":0.0105,"x":0.22,"y":0.24,"y2":0.9},{"m":["RF","DNN"],"k":"b","v":0.0105,"x":0.425,"y":0.26,"y2":0.93},{"m":["RF","DNN"],"k":"b","v":0.0105,"x":0.625,"y":0.26,"y2":0.95},{"m":["RF","DNN"],"k":"b","v":0.0105,"x":0.776,"y":0.26,"y2":1.02},{"m":["RF","DNN"],"k":"b","v":0.0105,"x":0.926,"y":0.28,"y2":1.03},{"m":["RF","DNN"],"k":"b","v":0.0105,"x":1.026,"y":0.37,"y2":1.02},{"m":["RF","DNN"],"k":"b","v":0.0105,"x":1.077,"y":0.58,"y2":1.01},{"m":["RF","DNN"],"k":"b","v":0.0105,"x":1.102,"y":0.76,"y2":1},
{"m":["RF","DNN"],"k":"b","v":0.08,"x":0.04,"y":0.41,"y2":0.6},{"m":["RF","DNN"],"k":"b","v":0.08,"x":0.174,"y":0.39,"y2":0.64},{"m":["RF","DNN"],"k":"b","v":0.08,"x":0.324,"y":0.37,"y2":0.76},{"m":["RF","DNN"],"k":"b","v":0.08,"x":0.425,"y":0.365,"y2":0.89},{"m":["RF","DNN"],"k":"b","v":0.08,"x":0.525,"y":0.36,"y2":0.93},{"m":["RF","DNN"],"k":"b","v":0.08,"x":0.725,"y":0.36,"y2":0.94},{"m":["RF","DNN"],"k":"b","v":0.08,"x":0.826,"y":0.37,"y2":0.98},{"m":["RF","DNN"],"k":"b","v":0.08,"x":0.906,"y":0.4,"y2":0.995},{"m":["RF","DNN"],"k":"b","v":0.08,"x":0.946,"y":0.51,"y2":1},{"m":["RF","DNN"],"k":"b","v":0.08,"x":0.986,"y":0.62,"y2":1},{"m":["RF","DNN"],"k":"b","v":0.08,"x":1.046,"y":0.72,"y2":1},{"m":["RF","DNN"],"k":"b","v":0.08,"x":1.102,"y":0.79,"y2":0.99},
{"m":["RF","DNN"],"k":"b","v":0.25,"x":0.044,"y":0.46,"y2":0.56},{"m":["RF","DNN"],"k":"b","v":0.25,"x":0.174,"y":0.44,"y2":0.59},{"m":["RF","DNN"],"k":"b","v":0.25,"x":0.324,"y":0.43,"y2":0.7},{"m":["RF","DNN"],"k":"b","v":0.25,"x":0.425,"y":0.42,"y2":0.83},{"m":["RF","DNN"],"k":"b","v":0.25,"x":0.525,"y":0.41,"y2":0.91},{"m":["RF","DNN"],"k":"b","v":0.25,"x":0.725,"y":0.41,"y2":0.93},{"m":["RF","DNN"],"k":"b","v":0.25,"x":0.826,"y":0.43,"y2":0.97},{"m":["RF","DNN"],"k":"b","v":0.25,"x":0.876,"y":0.47,"y2":0.98},{"m":["RF","DNN"],"k":"b","v":0.25,"x":0.926,"y":0.55,"y2":0.99},{"m":["RF","DNN"],"k":"b","v":0.25,"x":0.986,"y":0.66,"y2":0.995},{"m":["RF","DNN"],"k":"b","v":0.25,"x":1.046,"y":0.73,"y2":0.99},{"m":["RF","DNN"],"k":"b","v":0.25,"x":1.097,"y":0.77,"y2":0.97},
{"m":["RF","DNN"],"k":"b","v":0.7,"x":0.204,"y":0.47,"y2":0.57},{"m":["RF","DNN"],"k":"b","v":0.7,"x":0.324,"y":0.47,"y2":0.66},{"m":["RF","DNN"],"k":"b","v":0.7,"x":0.425,"y":0.47,"y2":0.76},{"m":["RF","DNN"],"k":"b","v":0.7,"x":0.525,"y":0.47,"y2":0.87},{"m":["RF","DNN"],"k":"b","v":0.7,"x":0.725,"y":0.47,"y2":0.91},{"m":["RF","DNN"],"k":"b","v":0.7,"x":0.846,"y":0.52,"y2":0.95},{"m":["RF","DNN"],"k":"b","v":0.7,"x":0.926,"y":0.63,"y2":0.97},{"m":["RF","DNN"],"k":"b","v":0.7,"x":0.986,"y":0.71,"y2":0.98},{"m":["RF","DNN"],"k":"b","v":0.7,"x":1.026,"y":0.76,"y2":0.97},{"m":["RF","DNN"],"k":"b","v":0.7,"x":1.087,"y":0.83,"y2":0.9},
{"m":["RF","DNN"],"k":"b","v":2,"x":0.445,"y":0.58,"y2":0.69},{"m":["RF","DNN"],"k":"b","v":2,"x":0.525,"y":0.56,"y2":0.8},{"m":["RF","DNN"],"k":"b","v":2,"x":0.625,"y":0.565,"y2":0.875},{"m":["RF","DNN"],"k":"b","v":2,"x":0.725,"y":0.57,"y2":0.9},{"m":["RF","DNN"],"k":"b","v":2,"x":0.826,"y":0.63,"y2":0.93},{"m":["RF","DNN"],"k":"b","v":2,"x":0.926,"y":0.73,"y2":0.95},{"m":["RF","DNN"],"k":"b","v":2,"x":0.976,"y":0.8,"y2":0.93},{"m":["RF","DNN"],"k":"b","v":2,"x":1.026,"y":0.82,"y2":0.93},{"m":["RF","DNN"],"k":"b","v":2,"x":1.087,"y":0.84,"y2":0.9},
{"m":["RF","DNN"],"k":"b","v":6,"x":0.675,"y":0.74,"y2":0.84},{"m":["RF","DNN"],"k":"b","v":6,"x":0.776,"y":0.74,"y2":0.885},{"m":["RF","DNN"],"k":"b","v":6,"x":0.846,"y":0.77,"y2":0.93},{"m":["RF","DNN"],"k":"b","v":6,"x":0.926,"y":0.82,"y2":0.93},{"m":["RF","DNN"],"k":"b","v":6,"x":0.956,"y":0.855,"y2":0.9},
{"m":["RF","DNN"],"k":"b","v":15,"x":0.846,"y":0.875,"y2":0.92},{"m":["RF","DNN"],"k":"b","v":15,"x":0.896,"y":0.845,"y2":0.93},{"m":["RF","DNN"],"k":"b","v":15,"x":0.936,"y":0.855,"y2":0.93},
{"m":["LR"],"k":"p","x":0.17,"y":0.614,"lo":0.556,"hi":0.666},{"m":["LR"],"k":"p","x":0.31,"y":0.639,"lo":0.577,"hi":0.696},{"m":["LR"],"k":"p","x":0.45,"y":0.678,"lo":0.613,"hi":0.74},{"m":["LR"],"k":"p","x":0.59,"y":0.717,"lo":0.652,"hi":0.78},{"m":["LR"],"k":"p","x":0.73,"y":0.756,"lo":0.688,"hi":0.819},{"m":["LR"],"k":"p","x":0.87,"y":0.795,"lo":0.728,"hi":0.875},{"m":["LR"],"k":"p","x":1.01,"y":0.801,"lo":0.764,"hi":0.839},
{"m":["RF"],"k":"p","x":0.17,"y":0.533,"lo":0.445,"hi":0.616},{"m":["RF"],"k":"p","x":0.31,"y":0.566,"lo":0.48,"hi":0.662},{"m":["RF"],"k":"p","x":0.45,"y":0.627,"lo":0.534,"hi":0.74},{"m":["RF"],"k":"p","x":0.59,"y":0.695,"lo":0.59,"hi":0.805},{"m":["RF"],"k":"p","x":0.73,"y":0.767,"lo":0.656,"hi":0.85},{"m":["RF"],"k":"p","x":0.87,"y":0.845,"lo":0.755,"hi":0.9},{"m":["RF"],"k":"p","x":1.01,"y":0.843,"lo":0.784,"hi":0.886},
{"m":["DNN"],"k":"p","x":0.17,"y":0.532,"lo":0.45,"hi":0.616},{"m":["DNN"],"k":"p","x":0.31,"y":0.567,"lo":0.484,"hi":0.662},{"m":["DNN"],"k":"p","x":0.45,"y":0.628,"lo":0.534,"hi":0.74},{"m":["DNN"],"k":"p","x":0.59,"y":0.694,"lo":0.59,"hi":0.805},{"m":["DNN"],"k":"p","x":0.73,"y":0.768,"lo":0.656,"hi":0.85},{"m":["DNN"],"k":"p","x":0.87,"y":0.847,"lo":0.757,"hi":0.902},{"m":["DNN"],"k":"p","x":1.01,"y":0.843,"lo":0.784,"hi":0.886}
]},
"vconcat":[
{"spacing":-3,"hconcat":[{"spacing":-26,"hconcat":[
{"width":0,"height":352.5,"view":{"stroke":null},"data":{"name":"one"},"layer":[
{"mark":{"type":"text","fontSize":24,"angle":270,"text":"log₁₀[Σ⋆/(M⊙ pc⁻²)]","xOffset":-18},"encoding":{"y":{"datum":1.443,"type":"quantitative","scale":{"domain":[-0.5,4.5],"nice":false,"zero":false},"axis":{"orient":"left","values":[0,1,2,3,4],"labels":true,"title":null,"tickSize":0,"labelPadding":-15.4,"format":"d"}}}},
{"mark":{"type":"text","fontSize":16.3,"angle":270,"text":"Predicted","xOffset":-13},"encoding":{"y":{"datum":3.606,"type":"quantitative"}}}]},
{"data":{"name":"r1"},"transform":[{"flatten":["m"]}],"spacing":0,"bounds":"flush","facet":{"column":{"field":"m","sort":["LR","RF","DNN"],"header":null}},"resolve":{"axis":{"x":"independent","y":"independent"}},
"spec":{"width":365.8,"height":352.5,"resolve":{"axis":{"x":"independent","y":"independent"}},"layer":[
{"transform":[{"filter":"datum.k=='s'"}],"mark":{"type":"area","interpolate":"monotone","clip":true,"color":"#fcffa4","opacity":0.25},"encoding":{"x":{"field":"x","type":"quantitative","axis":null,"scale":{"domain":[-0.5,4.5],"nice":false,"zero":false}},"y":{"field":"y","type":"quantitative","axis":null,"stack":null,"scale":{"domain":[-0.5,4.5],"nice":false,"zero":false}},"y2":{"field":"y2"}}},
{"transform":[{"filter":"datum.k=='b'"}],"mark":{"type":"area","interpolate":"monotone","clip":true},"encoding":{"x":{"field":"x","type":"quantitative","axis":null},"y":{"field":"y","type":"quantitative","axis":null,"stack":null},"y2":{"field":"y2"},"detail":{"field":"v"},"color":{"field":"v","type":"quantitative","legend":null,"scale":{"type":"log","domain":[0.01,6],"scheme":"inferno","reverse":true}}}},
{"data":{"name":"m1"},"mark":{"type":"rule","color":"#85748c","strokeWidth":3},"encoding":{"x":{"field":"a","type":"quantitative","axis":{"orient":"bottom","values":[0,1,2,3,4],"labels":true,"title":null,"tickSize":-5,"labelPadding":8,"format":"d"}},"y":{"field":"b","type":"quantitative","axis":{"orient":"left","values":[0,1,2,3,4],"title":null,"tickSize":-5}},"x2":{"field":"c"},"y2":{"field":"d"}}},
{"data":{"name":"m1"},"mark":{"type":"rule","color":"white","strokeWidth":1.5},"encoding":{"x":{"field":"a","type":"quantitative","axis":{"orient":"bottom","values":[-0.4,-0.2,0.2,0.4,0.6,0.8,1.2,1.4,1.6,1.8,2.2,2.4,2.6,2.8,3.2,3.4,3.6,3.8,4.2,4.4],"title":null}},"y":{"field":"b","type":"quantitative","axis":{"orient":"left","values":[-0.4,-0.2,0.2,0.4,0.6,0.8,1.2,1.4,1.6,1.8,2.2,2.4,2.6,2.8,3.2,3.4,3.6,3.8,4.2,4.4],"title":null}},"x2":{"field":"c"},"y2":{"field":"d"}}},
{"data":{"name":"d1"},"mark":{"type":"rule","color":"#e6dbe8","strokeWidth":1.6},"encoding":{"x":{"field":"a","type":"quantitative","axis":{"orient":"top","values":[0,1,2,3,4],"title":null,"tickSize":-5}},"y":{"field":"b","type":"quantitative","axis":{"orient":"right","values":[0,1,2,3,4],"title":null,"tickSize":-5}},"x2":{"field":"c"},"y2":{"field":"d"}}},
{"data":{"name":"d1"},"mark":{"type":"rule","color":"#000","strokeWidth":1.8,"strokeDash":[1.5,6]},"encoding":{"x":{"field":"a","type":"quantitative","axis":{"orient":"top","values":[-0.4,-0.2,0.2,0.4,0.6,0.8,1.2,1.4,1.6,1.8,2.2,2.4,2.6,2.8,3.2,3.4,3.6,3.8,4.2,4.4],"title":null}},"y":{"field":"b","type":"quantitative","axis":{"orient":"right","values":[-0.4,-0.2,0.2,0.4,0.6,0.8,1.2,1.4,1.6,1.8,2.2,2.4,2.6,2.8,3.2,3.4,3.6,3.8,4.2,4.4],"title":null}},"x2":{"field":"c"},"y2":{"field":"d"}}},
{"transform":[{"filter":"datum.k=='p'"}],"mark":{"type":"rule","color":"#1f3a4a","strokeWidth":3.2},"encoding":{"x":{"field":"x","type":"quantitative","axis":null},"y":{"field":"lo","type":"quantitative","axis":null},"y2":{"field":"hi"}}},
{"transform":[{"filter":"datum.k=='p'"}],"mark":{"type":"rule","color":"#5fd0ee","strokeWidth":1.6},"encoding":{"x":{"field":"x","type":"quantitative","axis":null},"y":{"field":"lo","type":"quantitative","axis":null},"y2":{"field":"hi"}}},
{"transform":[{"filter":"datum.k=='p'"}],"mark":{"type":"tick","orient":"horizontal","size":9,"thickness":1.6,"color":"#5fd0ee","stroke":"#1f3a4a","strokeWidth":0.8,"opacity":1},"encoding":{"x":{"field":"x","type":"quantitative","axis":null},"y":{"field":"lo","type":"quantitative","axis":null}}},
{"transform":[{"filter":"datum.k=='p'"}],"mark":{"type":"tick","orient":"horizontal","size":9,"thickness":1.6,"color":"#5fd0ee","stroke":"#1f3a4a","strokeWidth":0.8,"opacity":1},"encoding":{"x":{"field":"x","type":"quantitative","axis":null},"y":{"field":"hi","type":"quantitative","axis":null}}},
{"transform":[{"filter":"datum.k=='p'"}],"mark":{"type":"point","filled":true,"size":75,"color":"#a6e6fa","stroke":"#2a5a70","strokeWidth":1,"opacity":1},"encoding":{"x":{"field":"x","type":"quantitative","axis":null},"y":{"field":"y","type":"quantitative","axis":null}}},
{"transform":[{"filter":"datum.k=='a'&&datum.m=='LR'"}],"mark":{"type":"rect","color":"white","stroke":"#555","strokeWidth":1,"cornerRadius":6},"encoding":{"x":{"datum":-0.19,"axis":null},"x2":{"datum":0.421},"y":{"datum":3.716,"axis":null},"y2":{"datum":4.25}}},
{"transform":[{"filter":"datum.k=='a'&&datum.m=='RF'"}],"mark":{"type":"rect","color":"white","stroke":"#555","strokeWidth":1,"cornerRadius":6},"encoding":{"x":{"datum":-0.19,"axis":null},"x2":{"datum":0.621},"y":{"datum":3.716,"axis":null},"y2":{"datum":4.25}}},
{"transform":[{"filter":"datum.k=='a'&&datum.m=='DNN'"}],"mark":{"type":"rect","color":"white","stroke":"#555","strokeWidth":1,"cornerRadius":6},"encoding":{"x":{"datum":-0.19,"axis":null},"x2":{"datum":0.757},"y":{"datum":3.716,"axis":null},"y2":{"datum":4.25}}},
{"transform":[{"filter":"datum.k=='a'&&datum.m=='LR'"}],"mark":{"type":"text","fontSize":23},"encoding":{"x":{"datum":0.115,"axis":null},"y":{"datum":3.982,"axis":null},"text":{"field":"lab"}}},
{"transform":[{"filter":"datum.k=='a'&&datum.m=='RF'"}],"mark":{"type":"text","fontSize":23},"encoding":{"x":{"datum":0.218,"axis":null},"y":{"datum":3.982,"axis":null},"text":{"field":"lab"}}},
{"transform":[{"filter":"datum.k=='a'&&datum.m=='DNN'"}],"mark":{"type":"text","fontSize":23},"encoding":{"x":{"datum":0.279,"axis":null},"y":{"datum":3.982,"axis":null},"text":{"field":"lab"}}},
{"transform":[{"filter":"datum.k=='a'"}],"mark":{"type":"rect","color":"white","stroke":"#555","strokeWidth":1,"cornerRadius":6},"encoding":{"x":{"datum":2.608,"axis":null},"x2":{"datum":4.38},"y":{"datum":-0.188,"axis":null},"y2":{"datum":0.347}}},
{"transform":[{"filter":"datum.k=='a'"}],"mark":{"type":"text","fontSize":23,"fontStyle":"italic","text":"ρ"},"encoding":{"x":{"datum":2.835,"axis":null},"y":{"datum":0.082,"axis":null}}},
{"transform":[{"filter":"datum.k=='a'"}],"mark":{"type":"text","fontSize":23,"align":"left"},"encoding":{"x":{"datum":3.013,"axis":null},"y":{"datum":0.082,"axis":null},"text":{"field":"rho"}}},
{"transform":[{"filter":"datum.k=='a'&&datum.m=='RF'"}],"mark":{"type":"text","fontSize":24,"text":"log₁₀[Σ⋆/(M⊙ pc⁻²)]"},"encoding":{"x":{"datum":1.77,"axis":null},"y":{"datum":-0.996,"axis":null}}},
{"transform":[{"filter":"datum.k=='a'&&datum.m=='RF'"}],"mark":{"type":"text","fontSize":16.3,"align":"left","text":"True"},"encoding":{"x":{"datum":3.34,"axis":null},"y":{"datum":-1.08,"axis":null}}}
]}}]},
{"width":11.5,"height":352.5,"data":{"name":"one"},"resolve":{"axis":{"y":"independent"}},"layer":[
{"mark":{"type":"rect","color":{"gradient":"linear","x1":0,"y1":1,"x2":0,"y2":0,"stops":[{"offset":0,"color":"#fcffa4"},{"offset":0.1,"color":"#f6d746"},{"offset":0.2,"color":"#fca50a"},{"offset":0.3,"color":"#f37819"},{"offset":0.4,"color":"#dd513a"},{"offset":0.5,"color":"#bc3754"},{"offset":0.6,"color":"#932667"},{"offset":0.7,"color":"#6a176e"},{"offset":0.8,"color":"#420a68"},{"offset":0.9,"color":"#160b39"},{"offset":1,"color":"#000004"}]}},"encoding":{"x":{"datum":0,"type":"quantitative","axis":null,"scale":{"domain":[0,1]}},"x2":{"datum":1},"y":{"datum":0.01,"type":"quantitative","scale":{"type":"log","domain":[0.01,6],"nice":false},"axis":{"orient":"right","values":[0.1,0.5,1,5],"labels":true,"labelExpr":"datum.value","labelFontSize":12,"labelAngle":270,"labelAlign":"center","labelBaseline":"top","labelPadding":6,"tickSize":-4,"title":"×10³","titleFontSize":20,"titleFontWeight":"normal","titleAngle":270,"titlePadding":17}},"y2":{"datum":6}}},
{"mark":{"type":"rect","opacity":0},"encoding":{"x":{"datum":0,"type":"quantitative","axis":null},"x2":{"datum":1},"y":{"datum":0.01,"type":"quantitative","axis":{"orient":"right","values":[0.02,0.03,0.04,0.06,0.07,0.08,0.09,0.2,0.3,0.4,0.6,0.7,0.8,0.9,2,3,4],"title":null,"tickSize":-2}},"y2":{"datum":6}}}
]}
]},
{"spacing":-3,"hconcat":[{"spacing":-26,"hconcat":[
{"width":0,"height":352.5,"view":{"stroke":null},"data":{"name":"one"},"layer":[
{"mark":{"type":"text","fontSize":24,"angle":270,"text":"log₁₀(Z⋆/Z⊙)","xOffset":-31},"encoding":{"y":{"datum":-0.293,"type":"quantitative","scale":{"domain":[-0.79,0.49],"nice":false,"zero":false},"axis":{"orient":"left","values":[-0.6,-0.4,-0.2,0,0.2,0.4],"labels":true,"title":null,"tickSize":0,"labelPadding":-15.4,"format":".1f","labelExpr":"replace(datum.label,'−','-')"}}}},
{"mark":{"type":"text","fontSize":16.3,"angle":270,"text":"Predicted","xOffset":-26},"encoding":{"y":{"datum":0.112,"type":"quantitative"}}}]},
{"data":{"name":"r2"},"transform":[{"flatten":["m"]}],"spacing":0,"bounds":"flush","facet":{"column":{"field":"m","sort":["LR","RF","DNN"],"header":null}},"resolve":{"axis":{"x":"independent","y":"independent"}},
"spec":{"width":365.8,"height":352.5,"resolve":{"axis":{"x":"independent","y":"independent"}},"layer":[
{"transform":[{"filter":"datum.k=='s'"}],"mark":{"type":"area","interpolate":"monotone","clip":true,"color":"#fcffa4","opacity":0.25},"encoding":{"x":{"field":"x","type":"quantitative","axis":null,"scale":{"domain":[-0.79,0.49],"nice":false,"zero":false}},"y":{"field":"y","type":"quantitative","axis":null,"stack":null,"scale":{"domain":[-0.79,0.49],"nice":false,"zero":false}},"y2":{"field":"y2"}}},
{"transform":[{"filter":"datum.k=='b'"}],"mark":{"type":"area","interpolate":"monotone","clip":true},"encoding":{"x":{"field":"x","type":"quantitative","axis":null},"y":{"field":"y","type":"quantitative","axis":null,"stack":null},"y2":{"field":"y2"},"detail":{"field":"v"},"color":{"field":"v","type":"quantitative","legend":null,"scale":{"type":"log","domain":[0.01,25.7],"scheme":"inferno","reverse":true}}}},
{"data":{"name":"m2"},"mark":{"type":"rule","color":"#85748c","strokeWidth":3},"encoding":{"x":{"field":"a","type":"quantitative","axis":{"orient":"bottom","values":[-0.6,-0.4,-0.2,0,0.2,0.4],"labels":true,"title":null,"tickSize":-5,"labelPadding":8,"format":".1f"}},"y":{"field":"b","type":"quantitative","axis":{"orient":"left","values":[-0.6,-0.4,-0.2,0,0.2,0.4],"title":null,"tickSize":-5}},"x2":{"field":"c"},"y2":{"field":"d"}}},
{"data":{"name":"m2"},"mark":{"type":"rule","color":"white","strokeWidth":1.5},"encoding":{"x":{"field":"a","type":"quantitative","axis":{"orient":"bottom","values":[-0.75,-0.7,-0.65,-0.55,-0.5,-0.45,-0.35,-0.3,-0.25,-0.15,-0.1,-0.05,0.05,0.1,0.15,0.25,0.3,0.35,0.45],"title":null}},"y":{"field":"b","type":"quantitative","axis":{"orient":"left","values":[-0.75,-0.7,-0.65,-0.55,-0.5,-0.45,-0.35,-0.3,-0.25,-0.15,-0.1,-0.05,0.05,0.1,0.15,0.25,0.3,0.35,0.45],"title":null}},"x2":{"field":"c"},"y2":{"field":"d"}}},
{"data":{"name":"d2"},"mark":{"type":"rule","color":"#e6dbe8","strokeWidth":1.6},"encoding":{"x":{"field":"a","type":"quantitative","axis":{"orient":"top","values":[-0.6,-0.4,-0.2,0,0.2,0.4],"title":null,"tickSize":-5}},"y":{"field":"b","type":"quantitative","axis":{"orient":"right","values":[-0.6,-0.4,-0.2,0,0.2,0.4],"title":null,"tickSize":-5}},"x2":{"field":"c"},"y2":{"field":"d"}}},
{"data":{"name":"d2"},"mark":{"type":"rule","color":"#000","strokeWidth":1.8,"strokeDash":[1.5,6]},"encoding":{"x":{"field":"a","type":"quantitative","axis":{"orient":"top","values":[-0.75,-0.7,-0.65,-0.55,-0.5,-0.45,-0.35,-0.3,-0.25,-0.15,-0.1,-0.05,0.05,0.1,0.15,0.25,0.3,0.35,0.45],"title":null}},"y":{"field":"b","type":"quantitative","axis":{"orient":"right","values":[-0.75,-0.7,-0.65,-0.55,-0.5,-0.45,-0.35,-0.3,-0.25,-0.15,-0.1,-0.05,0.05,0.1,0.15,0.25,0.3,0.35,0.45],"title":null}},"x2":{"field":"c"},"y2":{"field":"d"}}},
{"transform":[{"filter":"datum.k=='p'"}],"mark":{"type":"rule","color":"#1f3a4a","strokeWidth":3.2},"encoding":{"x":{"field":"x","type":"quantitative","axis":null},"y":{"field":"lo","type":"quantitative","axis":null},"y2":{"field":"hi"}}},
{"transform":[{"filter":"datum.k=='p'"}],"mark":{"type":"rule","color":"#5fd0ee","strokeWidth":1.6},"encoding":{"x":{"field":"x","type":"quantitative","axis":null},"y":{"field":"lo","type":"quantitative","axis":null},"y2":{"field":"hi"}}},
{"transform":[{"filter":"datum.k=='p'"}],"mark":{"type":"tick","orient":"horizontal","size":9,"thickness":1.6,"color":"#5fd0ee","stroke":"#1f3a4a","strokeWidth":0.8,"opacity":1},"encoding":{"x":{"field":"x","type":"quantitative","axis":null},"y":{"field":"lo","type":"quantitative","axis":null}}},
{"transform":[{"filter":"datum.k=='p'"}],"mark":{"type":"tick","orient":"horizontal","size":9,"thickness":1.6,"color":"#5fd0ee","stroke":"#1f3a4a","strokeWidth":0.8,"opacity":1},"encoding":{"x":{"field":"x","type":"quantitative","axis":null},"y":{"field":"hi","type":"quantitative","axis":null}}},
{"transform":[{"filter":"datum.k=='p'"}],"mark":{"type":"point","filled":true,"size":75,"color":"#a6e6fa","stroke":"#2a5a70","strokeWidth":1,"opacity":1},"encoding":{"x":{"field":"x","type":"quantitative","axis":null},"y":{"field":"y","type":"quantitative","axis":null}}},
{"transform":[{"filter":"datum.k=='a'&&datum.m=='LR'"}],"mark":{"type":"rect","color":"white","stroke":"#555","strokeWidth":1,"cornerRadius":6},"encoding":{"x":{"datum":-0.7106,"axis":null},"x2":{"datum":-0.554},"y":{"datum":0.289,"axis":null},"y2":{"datum":0.426}}},
{"transform":[{"filter":"datum.k=='a'&&datum.m=='RF'"}],"mark":{"type":"rect","color":"white","stroke":"#555","strokeWidth":1,"cornerRadius":6},"encoding":{"x":{"datum":-0.7106,"axis":null},"x2":{"datum":-0.503},"y":{"datum":0.289,"axis":null},"y2":{"datum":0.426}}},
{"transform":[{"filter":"datum.k=='a'&&datum.m=='DNN'"}],"mark":{"type":"rect","color":"white","stroke":"#555","strokeWidth":1,"cornerRadius":6},"encoding":{"x":{"datum":-0.7106,"axis":null},"x2":{"datum":-0.468},"y":{"datum":0.289,"axis":null},"y2":{"datum":0.426}}},
{"transform":[{"filter":"datum.k=='a'&&datum.m=='LR'"}],"mark":{"type":"text","fontSize":23},"encoding":{"x":{"datum":-0.6325,"axis":null},"y":{"datum":0.3575,"axis":null},"text":{"field":"lab"}}},
{"transform":[{"filter":"datum.k=='a'&&datum.m=='RF'"}],"mark":{"type":"text","fontSize":23},"encoding":{"x":{"datum":-0.606,"axis":null},"y":{"datum":0.3575,"axis":null},"text":{"field":"lab"}}},
{"transform":[{"filter":"datum.k=='a'&&datum.m=='DNN'"}],"mark":{"type":"text","fontSize":23},"encoding":{"x":{"datum":-0.591,"axis":null},"y":{"datum":0.3575,"axis":null},"text":{"field":"lab"}}},
{"transform":[{"filter":"datum.k=='a'"}],"mark":{"type":"rect","color":"white","stroke":"#555","strokeWidth":1,"cornerRadius":6},"encoding":{"x":{"datum":0.0057,"axis":null},"x2":{"datum":0.459},"y":{"datum":-0.71,"axis":null},"y2":{"datum":-0.573}}},
{"transform":[{"filter":"datum.k=='a'"}],"mark":{"type":"text","fontSize":23,"fontStyle":"italic","text":"ρ"},"encoding":{"x":{"datum":0.0637,"axis":null},"y":{"datum":-0.641,"axis":null}}},
{"transform":[{"filter":"datum.k=='a'"}],"mark":{"type":"text","fontSize":23,"align":"left"},"encoding":{"x":{"datum":0.109,"axis":null},"y":{"datum":-0.641,"axis":null},"text":{"field":"rho"}}},
{"transform":[{"filter":"datum.k=='a'&&datum.m=='RF'"}],"mark":{"type":"text","fontSize":23.5,"text":"log₁₀(Z⋆/Z⊙)"},"encoding":{"x":{"datum":-0.209,"axis":null},"y":{"datum":-0.904,"axis":null}}},
{"transform":[{"filter":"datum.k=='a'&&datum.m=='RF'"}],"mark":{"type":"text","fontSize":16.3,"align":"left","text":"True"},"encoding":{"x":{"datum":0.05,"axis":null},"y":{"datum":-0.926,"axis":null}}}
]}}]},
{"width":11.5,"height":352.5,"data":{"name":"one"},"resolve":{"axis":{"y":"independent"}},"layer":[
{"mark":{"type":"rect","color":{"gradient":"linear","x1":0,"y1":1,"x2":0,"y2":0,"stops":[{"offset":0,"color":"#fcffa4"},{"offset":0.1,"color":"#f6d746"},{"offset":0.2,"color":"#fca50a"},{"offset":0.3,"color":"#f37819"},{"offset":0.4,"color":"#dd513a"},{"offset":0.5,"color":"#bc3754"},{"offset":0.6,"color":"#932667"},{"offset":0.7,"color":"#6a176e"},{"offset":0.8,"color":"#420a68"},{"offset":0.9,"color":"#160b39"},{"offset":1,"color":"#000004"}]}},"encoding":{"x":{"datum":0,"type":"quantitative","axis":null,"scale":{"domain":[0,1]}},"x2":{"datum":1},"y":{"datum":0.01,"type":"quantitative","scale":{"type":"log","domain":[0.01,25.7],"nice":false},"axis":{"orient":"right","values":[0.1,0.5,1,5],"labels":true,"labelExpr":"datum.value","labelFontSize":12,"labelAngle":270,"labelAlign":"center","labelBaseline":"top","labelPadding":6,"tickSize":-4,"title":"×10³","titleFontSize":20,"titleFontWeight":"normal","titleAngle":270,"titlePadding":17}},"y2":{"datum":25.7}}},
{"mark":{"type":"rect","opacity":0},"encoding":{"x":{"datum":0,"type":"quantitative","axis":null},"x2":{"datum":1},"y":{"datum":0.01,"type":"quantitative","axis":{"orient":"right","values":[0.02,0.03,0.04,0.06,0.07,0.08,0.09,0.2,0.3,0.4,0.6,0.7,0.8,0.9,2,3,4,6,7,8,9,10,20],"title":null,"tickSize":-2}},"y2":{"datum":25.7}}}
]}
]},
{"spacing":-3,"hconcat":[{"spacing":-26,"hconcat":[
{"width":0,"height":352.5,"view":{"stroke":null},"data":{"name":"one"},"layer":[
{"mark":{"type":"text","fontSize":24,"angle":270,"text":"log₁₀(t⋆/Gyr)","xOffset":-31},"encoding":{"y":{"datum":0.461,"type":"quantitative","scale":{"domain":[0.04,1.14],"nice":false,"zero":false},"axis":{"orient":"left","values":[0.2,0.4,0.6,0.8,1],"labels":true,"title":null,"tickSize":0,"labelPadding":-15.4,"format":".1f"}}}},
{"mark":{"type":"text","fontSize":16.3,"angle":270,"text":"Predicted","xOffset":-25},"encoding":{"y":{"datum":0.82,"type":"quantitative"}}}]},
{"data":{"name":"r3"},"transform":[{"flatten":["m"]}],"spacing":0,"bounds":"flush","facet":{"column":{"field":"m","sort":["LR","RF","DNN"],"header":null}},"resolve":{"axis":{"x":"independent","y":"independent"}},
"spec":{"width":365.8,"height":352.5,"resolve":{"axis":{"x":"independent","y":"independent"}},"layer":[
{"transform":[{"filter":"datum.k=='s'"}],"mark":{"type":"area","interpolate":"monotone","clip":true,"color":"#fcffa4","opacity":0.25},"encoding":{"x":{"field":"x","type":"quantitative","axis":null,"scale":{"domain":[0.04,1.14],"nice":false,"zero":false}},"y":{"field":"y","type":"quantitative","axis":null,"stack":null,"scale":{"domain":[0.04,1.14],"nice":false,"zero":false}},"y2":{"field":"y2"}}},
{"transform":[{"filter":"datum.k=='b'"}],"mark":{"type":"area","interpolate":"monotone","clip":true},"encoding":{"x":{"field":"x","type":"quantitative","axis":null},"y":{"field":"y","type":"quantitative","axis":null,"stack":null},"y2":{"field":"y2"},"detail":{"field":"v"},"color":{"field":"v","type":"quantitative","legend":null,"scale":{"type":"log","domain":[0.01,24.5],"scheme":"inferno","reverse":true}}}},
{"data":{"name":"m3"},"mark":{"type":"rule","color":"#85748c","strokeWidth":3},"encoding":{"x":{"field":"a","type":"quantitative","axis":{"orient":"bottom","values":[0.2,0.4,0.6,0.8,1],"labels":true,"title":null,"tickSize":-5,"labelPadding":8,"format":".1f"}},"y":{"field":"b","type":"quantitative","axis":{"orient":"left","values":[0.2,0.4,0.6,0.8,1],"title":null,"tickSize":-5}},"x2":{"field":"c"},"y2":{"field":"d"}}},
{"data":{"name":"m3"},"mark":{"type":"rule","color":"white","strokeWidth":1.5},"encoding":{"x":{"field":"a","type":"quantitative","axis":{"orient":"bottom","values":[0.05,0.1,0.15,0.25,0.3,0.35,0.45,0.5,0.55,0.65,0.7,0.75,0.85,0.9,0.95,1.05,1.1],"title":null}},"y":{"field":"b","type":"quantitative","axis":{"orient":"left","values":[0.05,0.1,0.15,0.25,0.3,0.35,0.45,0.5,0.55,0.65,0.7,0.75,0.85,0.9,0.95,1.05,1.1],"title":null}},"x2":{"field":"c"},"y2":{"field":"d"}}},
{"data":{"name":"d3"},"mark":{"type":"rule","color":"#e6dbe8","strokeWidth":1.6},"encoding":{"x":{"field":"a","type":"quantitative","axis":{"orient":"top","values":[0.2,0.4,0.6,0.8,1],"title":null,"tickSize":-5}},"y":{"field":"b","type":"quantitative","axis":{"orient":"right","values":[0.2,0.4,0.6,0.8,1],"title":null,"tickSize":-5}},"x2":{"field":"c"},"y2":{"field":"d"}}},
{"data":{"name":"d3"},"mark":{"type":"rule","color":"#000","strokeWidth":1.8,"strokeDash":[1.5,6]},"encoding":{"x":{"field":"a","type":"quantitative","axis":{"orient":"top","values":[0.05,0.1,0.15,0.25,0.3,0.35,0.45,0.5,0.55,0.65,0.7,0.75,0.85,0.9,0.95,1.05,1.1],"title":null}},"y":{"field":"b","type":"quantitative","axis":{"orient":"right","values":[0.05,0.1,0.15,0.25,0.3,0.35,0.45,0.5,0.55,0.65,0.7,0.75,0.85,0.9,0.95,1.05,1.1],"title":null}},"x2":{"field":"c"},"y2":{"field":"d"}}},
{"transform":[{"filter":"datum.k=='p'"}],"mark":{"type":"rule","color":"#1f3a4a","strokeWidth":3.2},"encoding":{"x":{"field":"x","type":"quantitative","axis":null},"y":{"field":"lo","type":"quantitative","axis":null},"y2":{"field":"hi"}}},
{"transform":[{"filter":"datum.k=='p'"}],"mark":{"type":"rule","color":"#5fd0ee","strokeWidth":1.6},"encoding":{"x":{"field":"x","type":"quantitative","axis":null},"y":{"field":"lo","type":"quantitative","axis":null},"y2":{"field":"hi"}}},
{"transform":[{"filter":"datum.k=='p'"}],"mark":{"type":"tick","orient":"horizontal","size":9,"thickness":1.6,"color":"#5fd0ee","stroke":"#1f3a4a","strokeWidth":0.8,"opacity":1},"encoding":{"x":{"field":"x","type":"quantitative","axis":null},"y":{"field":"lo","type":"quantitative","axis":null}}},
{"transform":[{"filter":"datum.k=='p'"}],"mark":{"type":"tick","orient":"horizontal","size":9,"thickness":1.6,"color":"#5fd0ee","stroke":"#1f3a4a","strokeWidth":0.8,"opacity":1},"encoding":{"x":{"field":"x","type":"quantitative","axis":null},"y":{"field":"hi","type":"quantitative","axis":null}}},
{"transform":[{"filter":"datum.k=='p'"}],"mark":{"type":"point","filled":true,"size":75,"color":"#a6e6fa","stroke":"#2a5a70","strokeWidth":1,"opacity":1},"encoding":{"x":{"field":"x","type":"quantitative","axis":null},"y":{"field":"y","type":"quantitative","axis":null}}},
{"transform":[{"filter":"datum.k=='a'&&datum.m=='LR'"}],"mark":{"type":"rect","color":"white","stroke":"#555","strokeWidth":1,"cornerRadius":6},"encoding":{"x":{"datum":0.108,"axis":null},"x2":{"datum":0.243},"y":{"datum":0.9675,"axis":null},"y2":{"datum":1.085}}},
{"transform":[{"filter":"datum.k=='a'&&datum.m=='RF'"}],"mark":{"type":"rect","color":"white","stroke":"#555","strokeWidth":1,"cornerRadius":6},"encoding":{"x":{"datum":0.108,"axis":null},"x2":{"datum":0.287},"y":{"datum":0.9675,"axis":null},"y2":{"datum":1.085}}},
{"transform":[{"filter":"datum.k=='a'&&datum.m=='DNN'"}],"mark":{"type":"rect","color":"white","stroke":"#555","strokeWidth":1,"cornerRadius":6},"encoding":{"x":{"datum":0.108,"axis":null},"x2":{"datum":0.317},"y":{"datum":0.9675,"axis":null},"y2":{"datum":1.085}}},
{"transform":[{"filter":"datum.k=='a'&&datum.m=='LR'"}],"mark":{"type":"text","fontSize":23},"encoding":{"x":{"datum":0.175,"axis":null},"y":{"datum":1.026,"axis":null},"text":{"field":"lab"}}},
{"transform":[{"filter":"datum.k=='a'&&datum.m=='RF'"}],"mark":{"type":"text","fontSize":23},"encoding":{"x":{"datum":0.198,"axis":null},"y":{"datum":1.026,"axis":null},"text":{"field":"lab"}}},
{"transform":[{"filter":"datum.k=='a'&&datum.m=='DNN'"}],"mark":{"type":"text","fontSize":23},"encoding":{"x":{"datum":0.211,"axis":null},"y":{"datum":1.026,"axis":null},"text":{"field":"lab"}}},
{"transform":[{"filter":"datum.k=='a'"}],"mark":{"type":"rect","color":"white","stroke":"#555","strokeWidth":1,"cornerRadius":6},"encoding":{"x":{"datum":0.724,"axis":null},"x2":{"datum":1.114},"y":{"datum":0.109,"axis":null},"y2":{"datum":0.226}}},
{"transform":[{"filter":"datum.k=='a'"}],"mark":{"type":"text","fontSize":23,"fontStyle":"italic","text":"ρ"},"encoding":{"x":{"datum":0.774,"axis":null},"y":{"datum":0.168,"axis":null}}},
{"transform":[{"filter":"datum.k=='a'"}],"mark":{"type":"text","fontSize":23,"align":"left"},"encoding":{"x":{"datum":0.813,"axis":null},"y":{"datum":0.168,"axis":null},"text":{"field":"rho"}}},
{"transform":[{"filter":"datum.k=='a'&&datum.m=='RF'"}],"mark":{"type":"text","fontSize":23,"text":"log₁₀(t⋆/Gyr)"},"encoding":{"x":{"datum":0.539,"axis":null},"y":{"datum":-0.056,"axis":null}}},
{"transform":[{"filter":"datum.k=='a'&&datum.m=='RF'"}],"mark":{"type":"text","fontSize":16,"align":"left","text":"True"},"encoding":{"x":{"datum":0.762,"axis":null},"y":{"datum":-0.07,"axis":null}}}
]}}]},
{"width":11.5,"height":352.5,"data":{"name":"one"},"resolve":{"axis":{"y":"independent"}},"layer":[
{"mark":{"type":"rect","color":{"gradient":"linear","x1":0,"y1":1,"x2":0,"y2":0,"stops":[{"offset":0,"color":"#fcffa4"},{"offset":0.1,"color":"#f6d746"},{"offset":0.2,"color":"#fca50a"},{"offset":0.3,"color":"#f37819"},{"offset":0.4,"color":"#dd513a"},{"offset":0.5,"color":"#bc3754"},{"offset":0.6,"color":"#932667"},{"offset":0.7,"color":"#6a176e"},{"offset":0.8,"color":"#420a68"},{"offset":0.9,"color":"#160b39"},{"offset":1,"color":"#000004"}]}},"encoding":{"x":{"datum":0,"type":"quantitative","axis":null,"scale":{"domain":[0,1]}},"x2":{"datum":1},"y":{"datum":0.01,"type":"quantitative","scale":{"type":"log","domain":[0.01,24.5],"nice":false},"axis":{"orient":"right","values":[0.1,0.5,1,5,10],"labels":true,"labelExpr":"datum.value","labelFontSize":12,"labelAngle":270,"labelAlign":"center","labelBaseline":"top","labelPadding":6,"tickSize":-4,"title":"×10³","titleFontSize":20,"titleFontWeight":"normal","titleAngle":270,"titlePadding":17}},"y2":{"datum":24.5}}},
{"mark":{"type":"rect","opacity":0},"encoding":{"x":{"datum":0,"type":"quantitative","axis":null},"x2":{"datum":1},"y":{"datum":0.01,"type":"quantitative","axis":{"orient":"right","values":[0.02,0.03,0.04,0.06,0.07,0.08,0.09,0.2,0.3,0.4,0.6,0.7,0.8,0.9,2,3,4,6,7,8,9,20],"title":null,"tickSize":-2}},"y2":{"datum":24.5}}}
]}
]}
]}
